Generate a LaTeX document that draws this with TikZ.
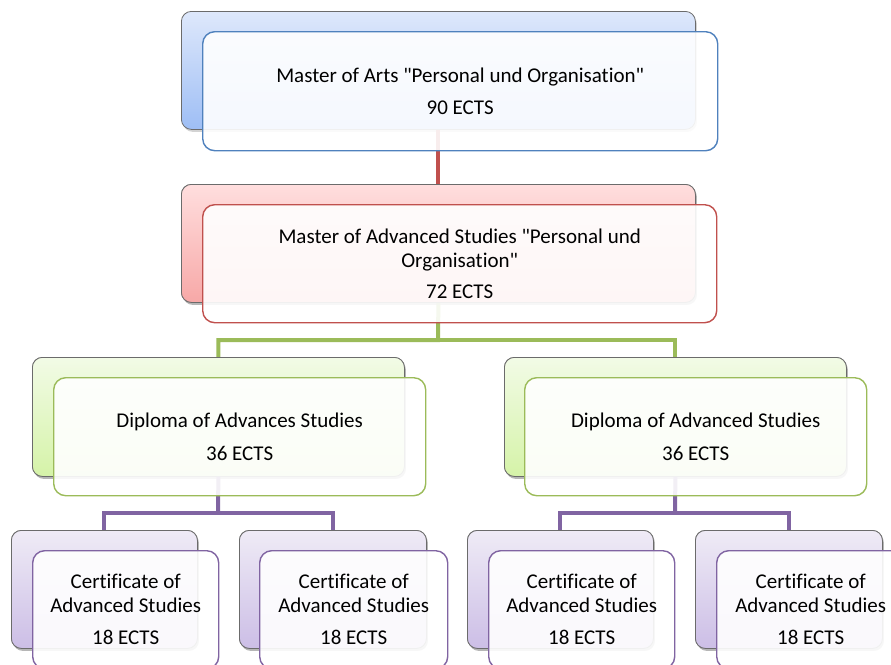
\documentclass[tikz,border=0pt]{standalone}
\usepackage{fontspec}
\setmainfont{Carlito}[Ligatures={TeXOff,CommonOff}]
\usetikzlibrary{shadows}
\definecolor{bluebd}{RGB}{79,129,189}
\definecolor{redbd}{RGB}{192,80,77}
\definecolor{greenbd}{RGB}{155,187,89}
\definecolor{purplebd}{RGB}{128,100,162}
\definecolor{bluetop}{RGB}{222,232,251}
\definecolor{bluebot}{RGB}{158,190,245}
\definecolor{redtop}{RGB}{255,222,222}
\definecolor{redbot}{RGB}{247,168,167}
\definecolor{greentop}{RGB}{242,251,230}
\definecolor{greenbot}{RGB}{213,243,168}
\definecolor{purpletop}{RGB}{239,235,246}
\definecolor{purplebot}{RGB}{204,190,230}
\begin{document}
\begin{tikzpicture}[x=1pt,y=-1pt,
  backbox/.style n args={4}{draw=black!58, line width=0.8pt, rounded corners=10pt,
    anchor=north west, inner sep=0pt, minimum width=#1, minimum height=#2,
    top color=#3, bottom color=#4,
    drop shadow={shadow xshift=1.5pt, shadow yshift=-2.5pt, opacity=0.35}},
  frontbox/.style n args={3}{draw=#3, line width=1.4pt, rounded corners=12pt,
    fill=white, fill opacity=0.9, text opacity=1, anchor=north west,
    inner sep=0pt, minimum width=#1, minimum height=#2, align=center,
    font=\fontsize{21}{24}\selectfont},
  conn/.style={draw=#1, line width=4pt}]
\useasboundingbox (0,0) rectangle (891,664);
\clip (0,0) rectangle (891,664);
% back boxes (named first so connectors can use them)
\path
  (181,11)  node[backbox={514pt}{118pt}{bluetop}{bluebot}] (b1) {}
  (181,184) node[backbox={514pt}{118pt}{redtop}{redbot}] (b2) {}
  (32,357)  node[backbox={372pt}{119pt}{greentop}{greenbot}] (b3L) {}
  (504,357) node[backbox={342pt}{119pt}{greentop}{greenbot}] (b3R) {};
\coordinate (gbar) at (438,340);
\coordinate (pbarL) at (218,513);
\coordinate (pbarR) at (675,513);
% connectors
\draw[conn=redbd] (b1.south) -- (b2.north);
\draw[conn=greenbd] (b2.south) -- (gbar) -| (b3L.north);
\draw[conn=greenbd] (gbar) -| (b3R.north);
% redraw back boxes of upper levels above connectors
\path
  (181,184) node[backbox={514pt}{118pt}{redtop}{redbot}] {}
  (32,357)  node[backbox={372pt}{119pt}{greentop}{greenbot}] {}
  (504,357) node[backbox={342pt}{119pt}{greentop}{greenbot}] {};
\path
  (11,530)  node[backbox={186pt}{118pt}{purpletop}{purplebot}] (b4a) {}
  (239,530) node[backbox={187pt}{118pt}{purpletop}{purplebot}] (b4b) {}
  (467,530) node[backbox={186pt}{118pt}{purpletop}{purplebot}] (b4c) {}
  (695,530) node[backbox={187pt}{118pt}{purpletop}{purplebot}] (b4d) {};
\draw[conn=purplebd] (b3L.south) -- (pbarL);
\draw[conn=purplebd] (b4a.north) |- (pbarL) -| (b4b.north);
\draw[conn=purplebd] (b3R.south) -- (pbarR);
\draw[conn=purplebd] (b4c.north) |- (pbarR) -| (b4d.north);
\path
  (11,530)  node[backbox={186pt}{118pt}{purpletop}{purplebot}] {}
  (239,530) node[backbox={187pt}{118pt}{purpletop}{purplebot}] {}
  (467,530) node[backbox={186pt}{118pt}{purpletop}{purplebot}] {}
  (695,530) node[backbox={187pt}{118pt}{purpletop}{purplebot}] {};
% front boxes
\node[frontbox={515pt}{119pt}{bluebd}] (f1) at (202,31)
  {Master of Arts "Personal und Organisation"\\[8pt]90 ECTS};
\node[frontbox={514pt}{118pt}{redbd}] (f2) at (202,204)
  {Master of Advanced Studies "Personal und\\Organisation"\\[7pt]72 ECTS};
\node[frontbox={372pt}{118pt}{greenbd}] (f3L) at (53,377)
  {Diploma of Advances Studies\\[9pt]36 ECTS};
\node[frontbox={342pt}{118pt}{greenbd}] (f3R) at (524,377)
  {Diploma of Advanced Studies\\[9pt]36 ECTS};
\node[frontbox={186pt}{118pt}{purplebd}] (f4a) at (32,550)
  {Certificate of\\Advanced Studies\\[8pt]18 ECTS};
\node[frontbox={188pt}{118pt}{purplebd}] (f4b) at (259,550)
  {Certificate of\\Advanced Studies\\[8pt]18 ECTS};
\node[frontbox={186pt}{118pt}{purplebd}] (f4c) at (488,550)
  {Certificate of\\Advanced Studies\\[8pt]18 ECTS};
\node[frontbox={188pt}{118pt}{purplebd}] (f4d) at (716,550)
  {Certificate of\\Advanced Studies\\[8pt]18 ECTS};
\end{tikzpicture}
\end{document}
